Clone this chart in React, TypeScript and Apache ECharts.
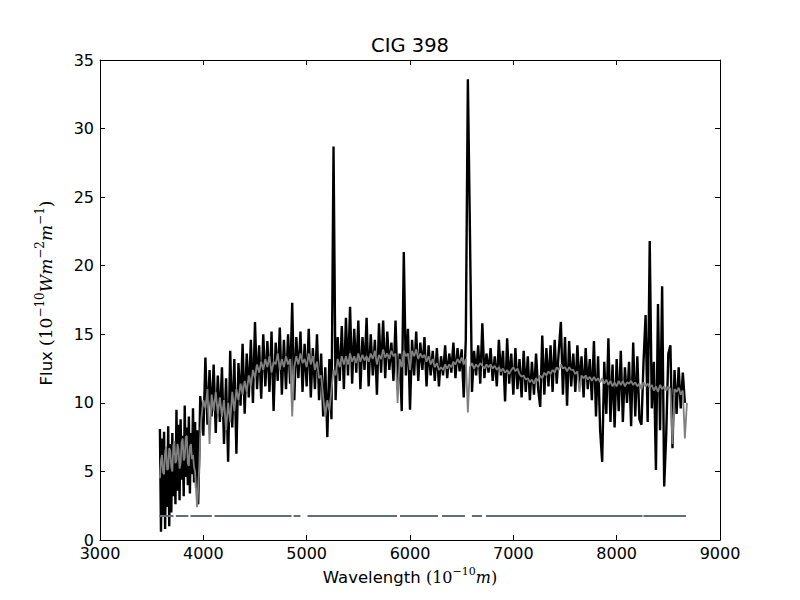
import React, { useEffect, useRef } from "react";
import * as echarts from "echarts";

// Wavelength grids of the spectrum (Angstrom): finer sampling in the noisy blue end
const BLUE_START = 3580;
const BLUE_STEP = 10;
const MAIN_START = 3980;
const MAIN_STEP = 20;

const blackBlue = [
  8.1, 0.6, 7.4, 1.8, 7.9, 0.8, 6.6, 2.4, 8.3, 1.0, 7.0, 2.0, 7.8, 3.2, 6.2, 2.6, 9.5, 3.6, 8.4, 2.9,
  8.8, 4.4, 7.6, 3.2, 9.8, 4.6, 8.2, 4.0, 9.0, 3.4, 7.8, 4.8, 9.6, 4.2, 8.6, 3.8, 8.0, 2.6, 6.0, 10.5,
];
const blackFlux2 = [9.5, 7.6, 13.3, 8.4, 12.4, 9.0, 12.8, 7.8, 12.0, 8.6, 12.6, 7.0, 11.8, 5.7, 13.8, 8.2, 13.2, 6.3, 12.9, 9.8];
const blackFlux3 = [14.3, 9.2, 13.6, 10.4, 14.6, 10.0, 15.9, 11.0, 14.2, 10.3, 15.0, 11.2, 14.5, 10.8, 15.2, 9.4, 14.4, 11.6, 15.5, 10.6];
const blackFlux4 = [14.6, 11.0, 15.0, 11.4, 17.3, 10.2, 14.8, 11.8, 15.2, 10.8, 14.3, 11.2, 15.4, 10.4, 14.0, 11.0, 15.0, 10.2, 13.6, 9.0];
const blackFlux5 = [12.6, 7.5, 13.2, 8.8, 28.7, 10.2, 14.8, 11.6, 15.6, 11.0, 16.2, 12.0, 17.0, 11.4, 15.4, 12.2, 16.0, 11.0, 14.8, 12.4];
const blackFlux6 = [16.2, 11.2, 15.0, 12.0, 14.6, 10.6, 15.8, 12.2, 16.0, 11.8, 15.2, 12.4, 14.4, 11.6, 16.0, 11.0, 13.6, 9.4, 21.0, 12.0];
const blackFlux7 = [15.4, 9.5, 14.6, 12.0, 15.2, 11.6, 14.4, 12.4, 14.8, 11.2, 14.2, 12.0, 13.8, 11.6, 14.0, 11.2, 13.4, 12.0, 14.2, 11.8];
const blackFlux8 = [13.6, 12.2, 14.4, 11.8, 14.0, 12.3, 13.9, 10.4, 14.6, 33.6, 22.5, 10.8, 13.8, 12.0, 14.2, 11.4, 15.8, 11.8, 13.6, 12.2];
const blackFlux9 = [14.0, 11.6, 13.4, 11.2, 14.6, 12.0, 13.8, 10.1, 14.7, 11.4, 13.6, 10.6, 14.0, 11.0, 13.2, 10.4, 13.8, 10.8, 13.4, 10.2];
const blackFlux10 = [13.0, 10.6, 13.6, 11.0, 9.7, 14.9, 10.6, 14.0, 11.2, 14.2, 10.8, 14.6, 11.4, 13.8, 15.9, 10.6, 14.8, 9.8, 14.5, 11.2];
const blackFlux11 = [13.6, 10.8, 14.2, 11.2, 13.4, 10.4, 14.0, 11.0, 13.2, 10.2, 14.5, 9.0, 13.4, 8.0, 5.7, 13.0, 9.2, 14.7, 8.6, 12.8];
const blackFlux12 = [8.2, 13.2, 9.4, 13.8, 8.6, 12.6, 10.0, 13.0, 8.3, 14.4, 9.0, 13.4, 8.8, 8.4, 13.0, 16.4, 8.6, 21.8, 9.6, 13.0];
const blackFlux13 = [5.1, 17.2, 8.0, 18.5, 3.9, 7.8, 13.6, 14.2, 6.7, 12.4, 9.2, 12.6, 9.6, 12.2, 10.0];

// Model / smoothed flux (grey)
const greyBlue = [
  4.5, 5.8, 6.2, 4.9, 4.8, 6.4, 6.8, 5.1, 5.2, 6.7, 6.5, 5.3, 5.0, 6.9, 7.2, 5.6, 5.8, 7.0, 6.6, 5.2,
  5.6, 7.1, 7.4, 5.8, 6.0, 7.5, 7.6, 5.6, 5.4, 6.8, 7.0, 5.9, 6.2, 5.3, 5.0, 3.6, 2.4, 3.8, 5.2, 7.6,
];
const greyFlux2 = [8.8, 10.2, 9.6, 11.0, 7.0, 10.6, 9.4, 10.8, 9.2, 10.4, 9.0, 10.2, 8.0, 10.0, 8.6, 10.8, 9.4, 11.0, 10.2, 11.4];
const greyFlux3 = [10.6, 11.6, 10.8, 12.0, 11.2, 12.4, 11.8, 12.8, 12.2, 13.0, 12.4, 13.2, 12.6, 13.4, 12.2, 13.0, 12.8, 13.6, 12.4, 13.2];
const greyFlux4 = [12.6, 13.4, 12.8, 13.2, 9.0, 12.6, 13.4, 12.8, 13.6, 12.9, 13.2, 12.6, 13.6, 12.8, 13.4, 12.4, 13.0, 11.8, 12.0, 10.4];
const greyFlux5 = [9.0, 10.2, 9.4, 11.0, 12.4, 12.0, 13.2, 12.6, 13.4, 12.8, 13.4, 12.8, 13.6, 13.0, 13.4, 12.9, 13.6, 13.0, 13.5, 13.1];
const greyFlux6 = [13.4, 13.0, 13.6, 13.2, 13.8, 12.8, 13.5, 13.2, 13.9, 13.3, 13.6, 13.2, 13.8, 13.4, 13.6, 10.0, 13.2, 12.6, 13.8, 13.4];
const greyFlux7 = [13.6, 12.4, 13.8, 13.4, 13.9, 13.2, 13.6, 13.3, 13.5, 13.0, 13.4, 12.8, 13.2, 12.6, 12.9, 12.4, 12.6, 12.4, 12.8, 12.5];
const greyFlux8 = [12.8, 12.6, 13.0, 12.8, 13.2, 12.9, 13.3, 12.8, 13.2, 9.3, 12.6, 12.9, 12.5, 12.8, 12.6, 12.9, 12.7, 12.5, 12.8, 12.6];
const greyFlux9 = [12.8, 12.5, 12.7, 12.4, 12.6, 12.3, 12.5, 12.2, 12.4, 12.1, 12.4, 12.6, 12.3, 12.5, 12.1, 11.9, 12.0, 11.7, 11.8, 11.5];
const greyFlux10 = [11.7, 11.4, 11.8, 11.6, 12.0, 11.8, 12.2, 12.0, 12.3, 12.1, 12.4, 12.2, 12.6, 12.4, 12.8, 12.5, 12.6, 12.3, 12.6, 12.4];
const greyFlux11 = [12.4, 12.1, 12.3, 10.8, 12.0, 11.8, 12.0, 11.7, 11.9, 11.6, 11.9, 11.6, 11.8, 11.5, 11.8, 11.4, 11.7, 11.3, 11.6, 11.2];
const greyFlux12 = [11.5, 11.2, 11.6, 11.3, 11.6, 11.2, 11.5, 11.4, 11.6, 11.3, 11.5, 11.2, 11.4, 11.0, 11.5, 11.2, 11.4, 11.1, 11.3, 10.9];
const greyFlux13 = [11.2, 10.8, 11.3, 11.0, 11.2, 10.9, 11.2, 11.0, 7.0, 11.0, 10.8, 11.1, 10.6, 10.9, 7.4, 10.0];

// Mask line (level and wavelength segments)
const MASK_LEVEL = 1.75;
const maskSegments = [
  [3574, 3711], [3734, 3855], [3876, 4082], [4108, 4854], [4873, 4940],
  [5008, 5874], [5903, 6271], [6310, 6532], [6600, 6697], [6735, 8250], [8259, 8671],
];

// Axes
const X_MIN = 3000, X_MAX = 9000, X_STEP = 1000;
const Y_MIN = 0, Y_MAX = 35, Y_STEP = 5;
const TITLE = "CIG 398";

const blackMain = [
  ...blackFlux2, ...blackFlux3, ...blackFlux4, ...blackFlux5, ...blackFlux6, ...blackFlux7,
  ...blackFlux8, ...blackFlux9, ...blackFlux10, ...blackFlux11, ...blackFlux12, ...blackFlux13,
];
const greyMain = [
  ...greyFlux2, ...greyFlux3, ...greyFlux4, ...greyFlux5, ...greyFlux6, ...greyFlux7,
  ...greyFlux8, ...greyFlux9, ...greyFlux10, ...greyFlux11, ...greyFlux12, ...greyFlux13,
];

function toPairs(blue: number[], main: number[]) {
  return [
    ...blue.map((v, i) => [BLUE_START + i * BLUE_STEP, v]),
    ...main.map((v, i) => [MAIN_START + i * MAIN_STEP, v]),
  ];
}

function richFor(main: number, sup: number) {
  const sans = "DejaVu Sans";
  const serif = "DejaVu Serif";
  return {
    t: { fontFamily: sans, fontSize: 16.5, color: "#000", lineHeight: 24, verticalAlign: "middle" },
    m: { fontFamily: serif, fontSize: main, color: "#000", lineHeight: 24, verticalAlign: "middle" },
    i: { fontFamily: serif, fontStyle: "italic", fontSize: main, color: "#000", lineHeight: 24, verticalAlign: "middle" },
    s: { fontFamily: serif, fontSize: sup, color: "#000", lineHeight: 12, verticalAlign: "top" },
  };
}

export default function App() {
  const ref = useRef<HTMLDivElement>(null);
  useEffect(() => {
    if (!ref.current) return;
    const chart = echarts.init(ref.current, null, { renderer: "svg" });
    const blackData = toPairs(blackBlue, blackMain);
    const greyData = toPairs(greyBlue, greyMain);
    const maskData: any[] = [];
    maskSegments.forEach(([a, b], i) => {
      if (i > 0) maskData.push([a - 1, "-"]);
      maskData.push([a, MASK_LEVEL], [b, MASK_LEVEL]);
    });

    const sans = "DejaVu Sans";
    const frame = { show: true, onZero: false, lineStyle: { color: "#000", width: 1 } };
    const tick = { show: true, inside: true, length: 5, lineStyle: { color: "#000", width: 1 } };
    const label = { color: "#000", fontFamily: sans, fontSize: 16, formatter: (v: number) => String(v) };

    chart.setOption({
      animation: false,
      backgroundColor: "#fff",
      title: {
        text: TITLE,
        left: 410,
        top: 35,
        textAlign: "center",
        padding: 0,
        textStyle: { fontFamily: sans, fontSize: 19.5, fontWeight: "normal", color: "#000" },
      },
      grid: { left: 100, right: 80, top: 60, bottom: 60, containLabel: false },
      xAxis: [
        {
          type: "value", position: "bottom", min: X_MIN, max: X_MAX, interval: X_STEP,
          axisLine: frame, axisTick: tick, splitLine: { show: false },
          axisLabel: { ...label, margin: 5 },
          name: "{t|Wavelength }{m|(10}{s|−10}{i|m}{m|)}",
          nameLocation: "middle", nameGap: 23,
          nameTextStyle: { rich: richFor(16, 11) },
        },
        {
          type: "value", position: "top", min: X_MIN, max: X_MAX, interval: X_STEP,
          axisLine: frame, axisTick: tick, splitLine: { show: false }, axisLabel: { show: false },
        },
      ],
      yAxis: [
        {
          type: "value", position: "left", min: Y_MIN, max: Y_MAX, interval: Y_STEP,
          axisLine: frame, axisTick: tick, splitLine: { show: false },
          axisLabel: { ...label, margin: 6 },
          name: "{t|Flux }{m|(10}{s|−10}{i|Wm}{s|−2}{i|m}{s|−1}{m|)}",
          nameLocation: "middle", nameGap: 42, nameRotate: 90,
          nameTextStyle: { rich: richFor(17, 12), padding: [0, 0, 0, 14] },
        },
        {
          type: "value", position: "right", min: Y_MIN, max: Y_MAX, interval: Y_STEP,
          axisLine: frame, axisTick: tick, splitLine: { show: false }, axisLabel: { show: false },
        },
      ],
      series: [
        {
          type: "line", data: blackData, showSymbol: false, symbol: "none",
          lineStyle: { color: "#000", width: 2.4 }, z: 2, silent: true,
        },
        {
          type: "line", data: greyData, showSymbol: false, symbol: "none",
          lineStyle: { color: "#808080", width: 1.8 }, z: 3, silent: true,
        },
        {
          type: "line", data: maskData, showSymbol: false, symbol: "none", connectNulls: false,
          lineStyle: { color: "#5f7174", width: 2 }, z: 4, silent: true,
        },
      ],
    });
    return () => chart.dispose();
  }, []);
  return <div ref={ref} style={{ position: "absolute", left: 0, top: 0, width: 800, height: 600 }} />;
}
